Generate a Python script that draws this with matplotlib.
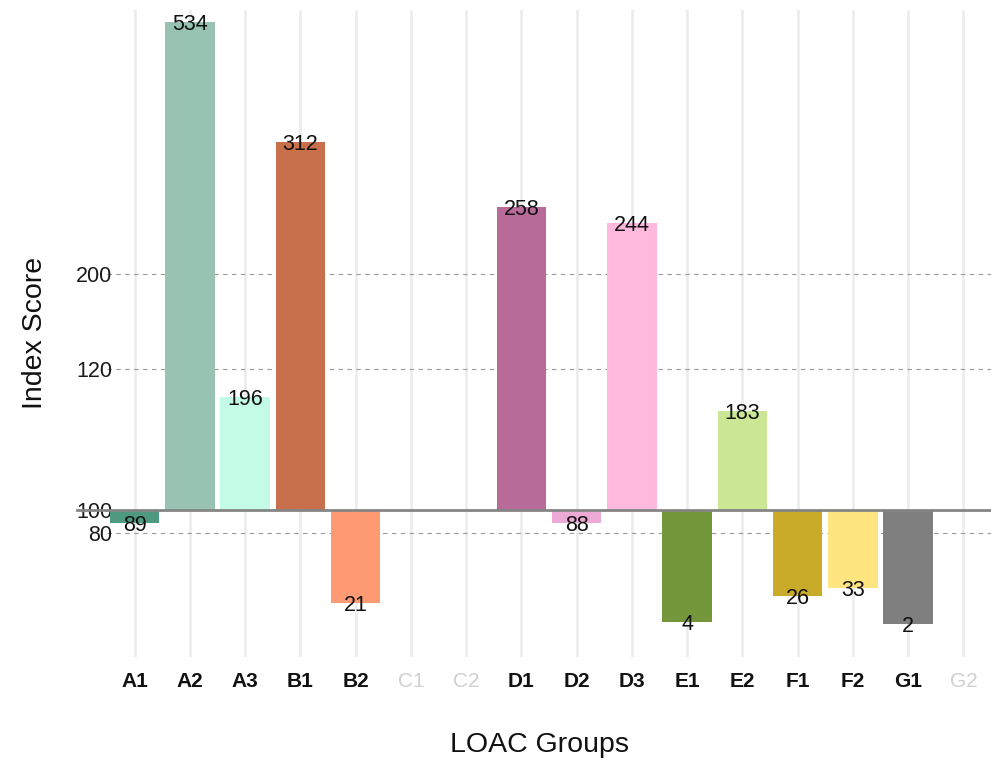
import numpy as np
import matplotlib
matplotlib.use("Agg")
import matplotlib.pyplot as plt
from matplotlib.lines import Line2D

plt.rcParams['font.family'] = ['Liberation Sans', 'DejaVu Sans']

groups = ["A1", "A2", "A3", "B1", "B2", "C1", "C2", "D1", "D2", "D3",
          "E1", "E2", "F1", "F2", "G1", "G2"]
# index score labels shown on the bars
index_score = [89, 534, 196, 312, 21, np.nan, np.nan, 258, 88, 244,
               4, 183, 26, 33, 2, np.nan]
# bar ends
bar_end = [89, 518, 197, 415, 20.6, np.nan, np.nan, 360, 89, 346,
           3.8, 185, 26.3, 33.4, 2.3, np.nan]
colors = ["#4e9a80", "#98c3b3", "#c4fbe6", "#c8704c", "#fd9a73", "#ffffff", "#ffffff",
          "#b86b98", "#edaad6", "#feb9dc", "#74973c", "#cbe695", "#c9aa29",
          "#fee580", "#7f7f7f", "#ffffff"]
baseline = 100
ytick_pos = [80, 100, 221, 302]
ytick_labels = ["80", "100", "120", "200"]

W, H = 991, 766
fig = plt.figure(figsize=(W / 100, H / 100), dpi=100)
ax = fig.add_axes([107 / W, 1 - 657 / H, (991 - 107) / W, (657 - 10) / H])

x = np.arange(len(groups))
ax.set_xlim(-0.5, len(groups) - 0.5)
ax.set_ylim(-26, 528.4)

# vertical gridlines
for xi in x:
    ax.axvline(xi, color="#ebebeb", lw=1.8, zorder=0)
# horizontal dashed gridlines
for yp in ytick_pos:
    if yp != baseline:
        ax.axhline(yp, color="#9a9a9a", lw=0.8, ls=(0, (4, 4)), zorder=1)

vals = np.array(bar_end, dtype=float)
mask = ~np.isnan(vals)
ax.bar(x[mask], vals[mask] - baseline, bottom=baseline, width=0.9,
       color=[c for c, m in zip(colors, mask) if m], zorder=2)

for xi, v, lab in zip(x, bar_end, index_score):
    if np.isnan(v):
        continue
    ax.text(xi, v, f"{int(lab)}", ha="center", va="center_baseline",
            fontsize=15.5, color="#111111", zorder=4)

# baseline line extending past the panel
line_start = (77 - 107) / (991 - 107)
ax.add_line(Line2D([line_start, 1.0], [baseline, baseline],
                   transform=ax.get_yaxis_transform(), color="#858585", lw=2.0,
                   zorder=3, clip_on=False))

ax.set_yticks(ytick_pos)
ax.set_yticklabels(ytick_labels, fontsize=15.5, color="#1a1a1a")
ax.tick_params(axis="y", length=0, pad=-4)
ax.set_xticks(x)
ax.set_xticklabels(groups, fontsize=15)
ax.tick_params(axis="x", length=0, pad=11)
for lab, v in zip(ax.get_xticklabels(), index_score):
    if np.isnan(v):
        lab.set_color("#d0d0d0")
    else:
        lab.set_fontweight("bold")
        lab.set_color("#111111")

for s in ax.spines.values():
    s.set_visible(False)

fig.text(35 / W, 1 - 333 / H, "Index Score", rotation=90, ha="center", va="center",
         fontsize=20.5, color="#111111")
fig.text(540 / W, 1 - 745 / H, "LOAC Groups", ha="center", va="center",
         fontsize=20.5, color="#111111")

fig.savefig("out.png", dpi=100)
